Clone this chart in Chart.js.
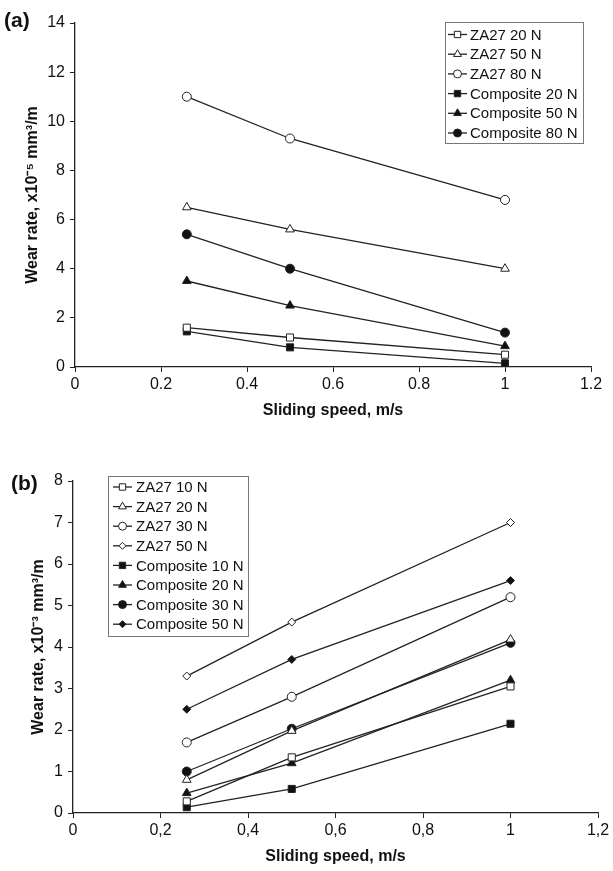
<!DOCTYPE html>
<html>
<head>
<meta charset="utf-8">
<script src="https://cdn.jsdelivr.net/npm/chart.js@4.4.1/dist/chart.umd.min.js"></script>
<style>
  body { margin: 0; background: #fff; width: 613px; height: 871px; position: relative; overflow: hidden; font-family: "Liberation Sans", Arial, sans-serif; }
  .wrap { position: absolute; left: 0; width: 613px; }
  #wrapA { top: 0; height: 425px; }
  #wrapB { top: 430px; height: 441px; }
  .tag { position: absolute; font-weight: bold; font-size: 21px; line-height: 24px; color: #111; }
</style>
</head>
<body>
<div class="wrap" id="wrapA"><canvas id="chart-a" width="613" height="425"></canvas></div>
<div class="wrap" id="wrapB"><canvas id="chart-b" width="613" height="441"></canvas></div>
<div class="tag" style="left:4px;top:8px">(a)</div>
<div class="tag" style="left:11px;top:471px">(b)</div>
<script>
// sliding speeds, m/s
const speeds = [0.26, 0.5, 1]

// (a) wear rate x10^-5 mm3/m
const labelsA = ["ZA27 20 N", "ZA27 50 N", "ZA27 80 N", "Composite 20 N", "Composite 50 N", "Composite 80 N"]
const za27_20a = [1.6, 1.2, 0.5]
const za27_50a = [6.5, 5.6, 4.0]
const za27_80a = [11.0, 9.3, 6.8]
const comp_20a = [1.45, 0.8, 0.15]
const comp_50a = [3.5, 2.5, 0.85]
const comp_80a = [5.4, 4.0, 1.4]

// (b) wear rate x10^-3 mm3/m
const labelsB = ["ZA27 10 N", "ZA27 20 N", "ZA27 30 N", "ZA27 50 N", "Composite 10 N", "Composite 20 N", "Composite 30 N", "Composite 50 N"]
const za27_10b = [0.28, 1.34, 3.05]
const za27_20b = [0.8, 1.98, 4.18]
const za27_30b = [1.7, 2.8, 5.2]
const za27_50b = [3.3, 4.6, 7.0]
const comp_10b = [0.14, 0.58, 2.15]
const comp_20b = [0.48, 1.2, 3.2]
const comp_30b = [1.0, 2.03, 4.1]
const comp_50b = [2.5, 3.7, 5.6]

const xTicks = [0, 0.2, 0.4, 0.6, 0.8, 1, 1.2]

const ink = "#222"
const font = "'Liberation Sans', Arial, sans-serif"

const toPoints = (vals) => vals.map((v, i) => ({ x: speeds[i], y: v }))

const makeSet = (label, vals, style, filled, radius) => ({
    label: label,
    data: toPoints(vals),
    borderColor: ink,
    borderWidth: 1.3,
    pointStyle: style,
    pointRadius: radius,
    pointHoverRadius: radius,
    pointBorderWidth: 1,
    pointBorderColor: ink,
    pointBackgroundColor: filled ? "#111" : "#fff",
    tension: 0,
})

// legend drawn inside the plot, with the line through the marker
const boxLegend = (cfg) => ({
    id: "boxLegend",
    afterDraw(chart) {
        const ctx = chart.ctx
        ctx.save()
        ctx.fillStyle = "#fff"
        ctx.fillRect(cfg.x, cfg.y, cfg.w, cfg.h)
        ctx.strokeStyle = "#777"
        ctx.lineWidth = 1
        ctx.strokeRect(cfg.x + 0.5, cfg.y + 0.5, cfg.w, cfg.h)
        chart.data.datasets.forEach((ds, i) => {
            const y = cfg.row0 + i * cfg.rowH
            ctx.strokeStyle = ink
            ctx.lineWidth = 1.3
            ctx.beginPath()
            ctx.moveTo(cfg.line0, y)
            ctx.lineTo(cfg.line1, y)
            ctx.stroke()
            ctx.fillStyle = ds.pointBackgroundColor
            ctx.strokeStyle = ink
            ctx.lineWidth = 1
            Chart.helpers.drawPoint(ctx, { pointStyle: ds.pointStyle, radius: ds.pointRadius - 0.5, rotation: 0, borderWidth: 1 }, (cfg.line0 + cfg.line1) / 2, y)
            ctx.fillStyle = "#111"
            ctx.font = "15px " + font
            ctx.textBaseline = "middle"
            ctx.textAlign = "left"
            ctx.fillText(ds.label, cfg.textX, y + 1)
        })
        ctx.restore()
    }
})

const makeOptions = (o) => ({
    responsive: false,
    animation: false,
    layout: { padding: { top: o.top, right: o.right, left: 0, bottom: 0 } },
    plugins: { legend: { display: false }, tooltip: { enabled: false } },
    scales: {
        x: {
            type: "linear",
            min: 0,
            max: 1.2,
            afterBuildTicks: (s) => { s.ticks = xTicks.map(v => ({ value: v })) },
            afterFit: (s) => { s.height = o.xHeight },
            ticks: {
                color: "#111",
                padding: 3,
                font: { family: font, size: 16 },
                callback: (v) => {
                    const t = String(+v.toFixed(1))
                    return o.comma ? t.replace(".", ",") : t
                },
            },
            grid: { drawOnChartArea: false, drawTicks: true, tickLength: 5, color: ink, lineWidth: 1 },
            border: { color: ink, width: 1.3 },
            title: {
                display: true,
                text: "Sliding speed, m/s",
                color: "#111",
                font: { family: font, size: 16, weight: "bold" },
                padding: { top: 0, bottom: 5 },
            },
        },
        y: {
            min: 0,
            max: o.yMax,
            afterFit: (s) => { s.width = o.yWidth },
            ticks: {
                stepSize: o.yStep,
                color: "#111",
                padding: 5,
                font: { family: font, size: 16 },
            },
            grid: { drawOnChartArea: false, drawTicks: true, tickLength: 5, color: ink, lineWidth: 1 },
            border: { color: ink, width: 1.3 },
            title: {
                display: true,
                text: o.yTitle,
                color: "#111",
                font: { family: font, size: 16, weight: "bold" },
                padding: { top: o.yTitlePad, bottom: 0 },
            },
        },
    },
})

const chartA = new Chart(document.querySelector("#chart-a").getContext("2d"), {
    type: "line",
    data: {
        datasets: [
            makeSet(labelsA[0], za27_20a, "rect", false, 5),
            makeSet(labelsA[1], za27_50a, "triangle", false, 5),
            makeSet(labelsA[2], za27_80a, "circle", false, 4.5),
            makeSet(labelsA[3], comp_20a, "rect", true, 5),
            makeSet(labelsA[4], comp_50a, "triangle", true, 5),
            makeSet(labelsA[5], comp_80a, "circle", true, 4.5),
        ]
    },
    options: makeOptions({
        top: 23, right: 22, xHeight: 58, yWidth: 75, yMax: 14, yStep: 2,
        yTitle: "Wear rate, x10\u207B\u2075 mm\u00B3/m", yTitlePad: 23, comma: false,
    }),
    plugins: [boxLegend({ x: 445, y: 22, w: 138, h: 121, row0: 34.5, rowH: 19.7, line0: 448, line1: 467, textX: 470 })],
})

const chartB = new Chart(document.querySelector("#chart-b").getContext("2d"), {
    type: "line",
    data: {
        datasets: [
            makeSet(labelsB[0], za27_10b, "rect", false, 5),
            makeSet(labelsB[1], za27_20b, "triangle", false, 5),
            makeSet(labelsB[2], za27_30b, "circle", false, 4.5),
            makeSet(labelsB[3], za27_50b, "rectRot", false, 4),
            makeSet(labelsB[4], comp_10b, "rect", true, 5),
            makeSet(labelsB[5], comp_20b, "triangle", true, 5),
            makeSet(labelsB[6], comp_30b, "circle", true, 4.5),
            makeSet(labelsB[7], comp_50b, "rectRot", true, 4),
        ]
    },
    options: makeOptions({
        top: 51, right: 15, xHeight: 58, yWidth: 73, yMax: 8, yStep: 1,
        yTitle: "Wear rate, x10\u207B\u00B3 mm\u00B3/m", yTitlePad: 29, comma: true,
    }),
    plugins: [boxLegend({ x: 108, y: 46, w: 140, h: 160, row0: 57, rowH: 19.6, line0: 113, line1: 132, textX: 136 })],
})
</script>
</body>
</html>
